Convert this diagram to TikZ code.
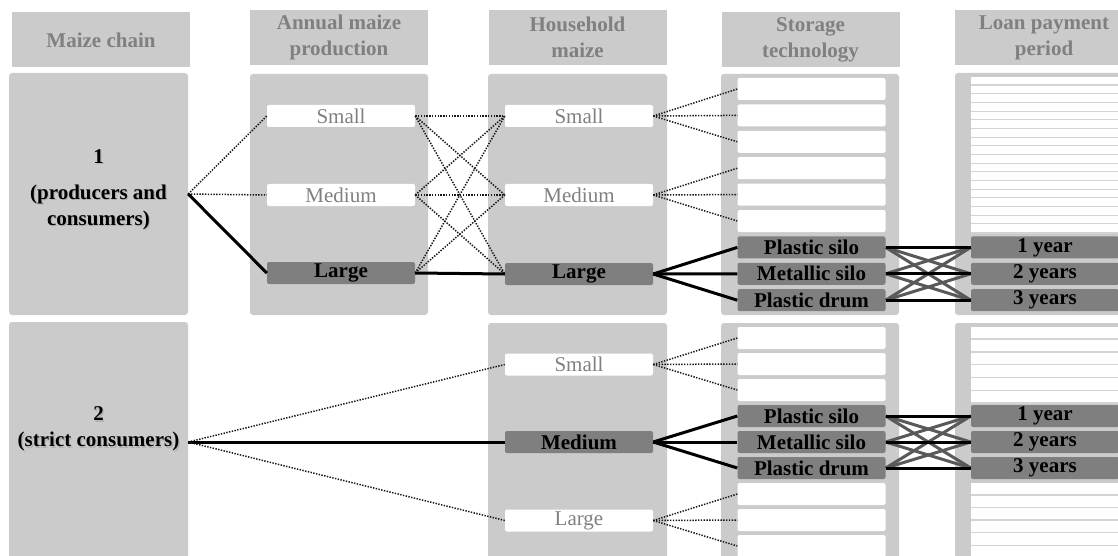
\documentclass[tikz,border=0pt]{standalone}
\usepackage{fontspec}
\setmainfont{Liberation Serif}
\usepackage{tikz}
\definecolor{panelgray}{HTML}{CBCBCB}
\definecolor{boxgray}{HTML}{7F7F7F}
\definecolor{textgray}{HTML}{808080}
\definecolor{stripegray}{HTML}{D4D4D4}
\newcommand{\bigfont}{\fontsize{21}{26}\selectfont}

\begin{document}
\begin{tikzpicture}[x=1pt,y=-1pt,
    panel/.style={fill=panelgray,rounded corners=3pt,inner sep=0pt},
    header/.style={fill=panelgray,text=textgray,font=\bfseries\bigfont,align=center,
        minimum width=178pt,minimum height=55pt,inner sep=0pt},
    optbox/.style={fill=white,rounded corners=2pt,text=textgray,font=\bigfont,
        minimum width=148pt,minimum height=22pt,inner sep=0pt},
    pickbox/.style={fill=boxgray,rounded corners=2pt,font=\bfseries\bigfont,
        minimum width=148pt,minimum height=22pt,inner sep=0pt},
    maybeline/.style={black!90,line width=1.5pt,dash pattern=on 1.4pt off 1.4pt},
    pickline/.style={black,line width=3pt},
    crossline/.style={black!65,line width=3pt},
    chaintext/.style={font=\bfseries\bigfont,align=center}]
    \useasboundingbox (0,0) rectangle (1118,556);
    \clip (0,0) rectangle (1118,556);

    % headers
    \node[header] (hchain) at (101,40) {Maize chain};
    \node[header] (hprod) at (339,37.5) {Annual maize\\production};
    \node[header] (hhouse) at (577.5,37.5) {Household\\maize};
    \node[header] (hstore) at (810.5,39.5) {Storage\\technology};
    \node[header] (hloan) at (1044,37.5) {Loan payment\\period};

    % panels
    \node[panel,minimum width=179pt,minimum height=242pt] (chain1) at (98.5,194) {};
    \node[panel,minimum width=179pt,minimum height=240pt] (chain2) at (98.5,442) {};
    \fill[panel] (250,74) rectangle (428,315);
    \fill[panel] (488,74) rectangle (667,315);
    \fill[panel] (721,74) rectangle (899,315);
    \fill[panel] (955,73) rectangle (1133,315);
    \fill[panel] (488,323) rectangle (667,580);
    \fill[panel] (721,323) rectangle (899,580);
    \fill[panel] (955,323) rectangle (1133,580);

    % chain labels
    \node[chaintext,text=black!30] at (99.8,191.3) {1\\[10pt](producers and\\consumers)};
    \node[chaintext] (lab1) at (98.5,190) {1\\[10pt](producers and\\consumers)};
    \node[chaintext,text=black!30] at (99.8,430.3) {2\\(strict consumers)};
    \node[chaintext] (lab2) at (98.5,429) {2\\(strict consumers)};

    % annual production
    \node[optbox] (ps) at (341,116) {Small};
    \node[optbox] (pm) at (341,195) {Medium};
    \node[pickbox] (pl) at (341,273) {Large};

    % household maize
    \node[optbox] (hs) at (579,116) {Small};
    \node[optbox] (hm) at (579,195) {Medium};
    \node[pickbox] (hl) at (579,274) {Large};
    \node[optbox] (ks) at (579,364.5) {Small};
    \node[pickbox] (km) at (579,442) {Medium};
    \node[optbox] (kl) at (579,520.5) {Large};

    % storage technology
    \foreach \i in {1,...,6}
        \node[optbox] (sa\i) at (811.5,{89+26.4*(\i-1)}) {};
    \node[pickbox] (sa7) at (811.5,247.4) {Plastic silo};
    \node[pickbox] (sa8) at (811.5,273.8) {Metallic silo};
    \node[pickbox] (sa9) at (811.5,300.2) {Plastic drum};
    \foreach \i in {1,2,3,7,8,9}
        \node[optbox] (sb\i) at (811.5,{338+26*(\i-1)}) {};
    \node[pickbox] (sb4) at (811.5,416) {Plastic silo};
    \node[pickbox] (sb5) at (811.5,442) {Metallic silo};
    \node[pickbox] (sb6) at (811.5,468) {Plastic drum};

    % loan payment period
    \fill[stripegray] (971,77) rectangle (1118,234);
    \foreach \k in {0,...,17}
        \fill[white] (971,{77+8.67*\k}) rectangle (1118,{77+8.67*\k+7.5});
    \fill[stripegray] (971,327) rectangle (1118,404);
    \foreach \k in {0,...,5}
        \fill[white] (971,{327+12.8*\k}) rectangle (1118,{327+12.8*\k+11.4});
    \fill[stripegray] (971,483) rectangle (1118,556);
    \foreach \k in {0,...,5}
        \fill[white] (971,{483+12.6*\k}) rectangle (1118,{483+12.6*\k+11.2});
    \node[pickbox] (la1) at (1045,247.4) {1 year};
    \node[pickbox] (la2) at (1045,273.8) {2 years};
    \node[pickbox] (la3) at (1045,300.2) {3 years};
    \node[pickbox] (lb1) at (1045,416) {1 year};
    \node[pickbox] (lb2) at (1045,442) {2 years};
    \node[pickbox] (lb3) at (1045,468) {3 years};

    % chain 1
    \draw[maybeline] (chain1.east) -- (ps.west);
    \draw[maybeline] (chain1.east) -- (pm.west);
    \draw[pickline] (chain1.east) -- (pl.west);
    \foreach \a in {ps,pm,pl}
        \foreach \b in {hs,hm,hl}
            \draw[maybeline] (\a.east) -- (\b.west);
    \draw[pickline] (pl.east) -- (hl.west);
    \foreach \i in {1,2,3}
        \draw[maybeline] (hs.east) -- (sa\i.west);
    \foreach \i in {4,5,6}
        \draw[maybeline] (hm.east) -- (sa\i.west);
    \foreach \i in {7,8,9}
        \draw[pickline] (hl.east) -- (sa\i.west);
    \foreach \i/\j in {7/2,7/3,8/1,8/3,9/1,9/2}
        \draw[crossline] (sa\i.east) -- (la\j.west);
    \foreach \i/\j in {7/1,8/2,9/3}
        \draw[pickline] (sa\i.east) -- (la\j.west);

    % chain 2
    \draw[maybeline] (chain2.east) -- (ks.west);
    \draw[pickline] (chain2.east) -- (km.west);
    \draw[maybeline] (chain2.east) -- (kl.west);
    \foreach \i in {1,2,3}
        \draw[maybeline] (ks.east) -- (sb\i.west);
    \foreach \i in {4,5,6}
        \draw[pickline] (km.east) -- (sb\i.west);
    \foreach \i in {7,8,9}
        \draw[maybeline] (kl.east) -- (sb\i.west);
    \foreach \i/\j in {4/2,4/3,5/1,5/3,6/1,6/2}
        \draw[crossline] (sb\i.east) -- (lb\j.west);
    \foreach \i/\j in {4/1,5/2,6/3}
        \draw[pickline] (sb\i.east) -- (lb\j.west);
\end{tikzpicture}
\end{document}
